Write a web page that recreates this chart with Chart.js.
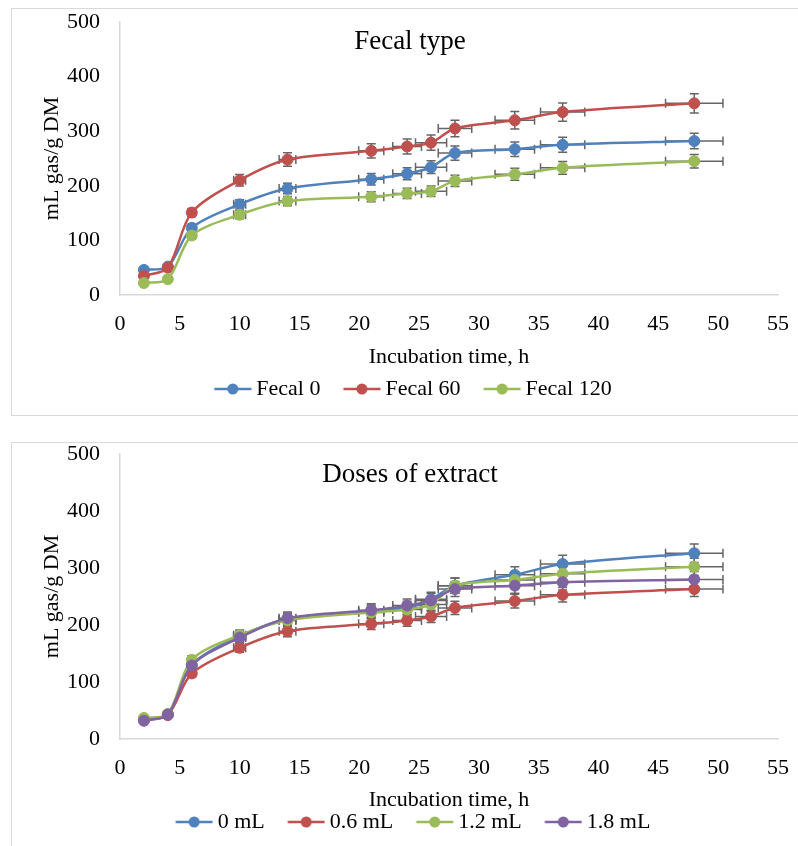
<!DOCTYPE html>
<html>
<head>
<meta charset="utf-8">
<script src="https://cdn.jsdelivr.net/npm/chart.js@4.4.1/dist/chart.umd.min.js"></script>
<style>
  html, body { margin: 0; padding: 0; background: #fff; overflow: hidden; }
  body { width: 798px; height: 846px; position: relative; }
  .frame { position: absolute; left: 11px; border: 1px solid #d9d9d9; background: #fff; }
  #box1 { top: 8px; width: 802px; height: 406px; }
  #box2 { top: 442px; width: 802px; height: 410px; }
  canvas { display: block; }
</style>
</head>
<body>
<div class="frame" id="box1"><canvas id="chart1" width="802" height="406"></canvas></div>
<div class="frame" id="box2"><canvas id="chart2" width="802" height="410"></canvas></div>
<script>
// ---- data ----
var hours = [2, 4, 6, 10, 14, 21, 24, 26, 28, 33, 37, 48];

var fecal0   = [46, 52, 123, 166, 195, 212, 222, 234, 260, 267, 275, 282];
var fecal60  = [35, 50, 151, 210, 248, 264, 272, 279, 305, 320, 335, 351];
var fecal120 = [22, 29, 109, 147, 172, 180, 186, 190, 209, 221, 233, 245];

var dose0  = [34, 43, 130, 180, 210, 224, 230, 245, 269, 288, 307, 326];
var dose06 = [33, 42, 115, 160, 189, 202, 208, 215, 230, 242, 253, 263];
var dose12 = [37, 44, 139, 182, 208, 222, 227, 236, 269, 279, 290, 302];
var dose18 = [32, 43, 129, 178, 212, 226, 234, 243, 263, 269, 275, 280];

var errPct = 0.05; // error bars: 5 % on both axes

var xTicks = { min: 0, max: 55, step: 5 };
var yTicks = { min: 0, max: 500, step: 100 };

var blue = '#4f81bd', red = '#c0504d', green = '#9bbb59', purple = '#8064a2';
var serif = '"Liberation Serif", "Times New Roman", serif';

Chart.defaults.font.family = serif;
Chart.defaults.color = '#000';

// legend icon: line with a circle marker
function legendIcon(color) {
    var c = document.createElement('canvas');
    c.width = 44; c.height = 14;
    var g = c.getContext('2d');
    g.strokeStyle = color; g.lineWidth = 2.5;
    g.beginPath(); g.moveTo(6.5, 7); g.lineTo(43.5, 7); g.stroke();
    g.fillStyle = color;
    g.beginPath(); g.arc(25, 7, 5.5, 0, Math.PI * 2); g.fill();
    return c;
}

// error bars drawn behind the lines
var errorBars = {
    id: 'errorBars',
    beforeDatasetsDraw: function (chart) {
        var ctx = chart.ctx, xs = chart.scales.x, ys = chart.scales.y, cap = 4.5;
        ctx.save();
        ctx.strokeStyle = '#666666';
        ctx.lineWidth = 1.5;
        chart.data.datasets.forEach(function (ds) {
            ds.data.forEach(function (p) {
                var px = xs.getPixelForValue(p.x), py = ys.getPixelForValue(p.y);
                var x0 = xs.getPixelForValue(p.x * (1 - errPct)), x1 = xs.getPixelForValue(p.x * (1 + errPct));
                var y0 = ys.getPixelForValue(p.y * (1 - errPct)), y1 = ys.getPixelForValue(p.y * (1 + errPct));
                ctx.beginPath();
                ctx.moveTo(x0, py); ctx.lineTo(x1, py);
                ctx.moveTo(x0, py - cap); ctx.lineTo(x0, py + cap);
                ctx.moveTo(x1, py - cap); ctx.lineTo(x1, py + cap);
                ctx.moveTo(px, y0); ctx.lineTo(px, y1);
                ctx.moveTo(px - cap, y0); ctx.lineTo(px + cap, y0);
                ctx.moveTo(px - cap, y1); ctx.lineTo(px + cap, y1);
                ctx.stroke();
            });
        });
        ctx.restore();
    }
};

// title laid over the plot area (like Excel)
var overlayTitle = {
    id: 'overlayTitle',
    afterDraw: function (chart, args, opts) {
        var ctx = chart.ctx;
        ctx.save();
        ctx.font = '27px ' + serif;
        ctx.fillStyle = '#000';
        ctx.textAlign = 'center';
        ctx.textBaseline = 'alphabetic';
        ctx.fillText(opts.text, opts.x, opts.y);
        ctx.restore();
    }
};

function makeChart(id, title, names, series, colors, geo) {
    var n = series.length;
    var datasets = series.map(function (vals, i) {
        return {
            label: names[i],
            data: hours.map(function (h, k) { return { x: h, y: vals[k] }; }),
            borderColor: colors[i],
            backgroundColor: colors[i],
            borderWidth: 2.5,
            tension: 0.3,
            pointRadius: 5.5,
            pointBorderWidth: 1,
            pointBackgroundColor: colors[i],
            pointBorderColor: colors[i],
            order: n - i // later series on top, as in Excel
        };
    });

    return new Chart(document.getElementById(id), {
        type: 'line',
        data: { datasets: datasets },
        plugins: [errorBars, overlayTitle],
        options: {
            responsive: false,
            animation: false,
            layout: { padding: { left: 0, right: 0, top: geo.top, bottom: geo.padBottom } },
            plugins: {
                tooltip: { enabled: false },
                title: { display: false },
                overlayTitle: { text: title, x: 398, y: geo.titleY },
                legend: {
                    position: 'bottom',
                    labels: {
                        usePointStyle: true,
                        pointStyleWidth: 31,
                        padding: 23,
                        color: '#000',
                        font: { size: 22, family: serif },
                        generateLabels: function (chart) {
                            return chart.data.datasets.map(function (ds, i) {
                                return {
                                    text: ds.label,
                                    pointStyle: legendIcon(ds.borderColor),
                                    fillStyle: ds.borderColor,
                                    strokeStyle: ds.borderColor,
                                    lineWidth: 0,
                                    hidden: false,
                                    fontColor: '#000',
                                    datasetIndex: i
                                };
                            });
                        }
                    }
                }
            },
            scales: {
                x: {
                    type: 'linear',
                    min: xTicks.min, max: xTicks.max,
                    grid: { display: false, drawTicks: false },
                    border: { display: true, color: '#d9d9d9', width: 1.5 },
                    ticks: { stepSize: xTicks.step, padding: geo.xTickPad, color: '#000',
                             font: { size: 22, lineHeight: 1 } },
                    title: { display: true, text: 'Incubation time, h', color: '#000',
                             font: { size: 22, lineHeight: 1 }, padding: { top: 0, bottom: geo.xTitlePad } },
                    afterFit: function (s) { s.height = geo.xHeight; }
                },
                y: {
                    min: yTicks.min, max: yTicks.max,
                    // invisible tick marks give the gap between labels and axis
                    grid: { display: true, drawOnChartArea: false, drawTicks: true,
                            tickLength: 20, tickColor: 'rgba(0,0,0,0)' },
                    border: { display: true, color: '#d9d9d9', width: 1.5 },
                    ticks: { stepSize: yTicks.step, padding: 0, color: '#000',
                             font: { size: 22, lineHeight: 1 } },
                    title: { display: true, text: 'mL gas/g DM', color: '#000',
                             font: { size: 22, lineHeight: 1 }, padding: { top: 29, bottom: 0 } },
                    afterFit: function (s) { s.width = 108; }
                },
                yr: {
                    position: 'right',
                    display: true,
                    grid: { display: false, drawTicks: false },
                    border: { display: false },
                    ticks: { display: false },
                    afterFit: function (s) { s.width = 36; }
                }
            }
        }
    });
}

makeChart('chart1', 'Fecal type',
    ['Fecal 0', 'Fecal 60', 'Fecal 120'],
    [fecal0, fecal60, fecal120],
    [blue, red, green],
    { top: 13, padBottom: 5, xHeight: 60, xTickPad: 18, xTitlePad: -13, titleY: 39.5 });

makeChart('chart2', 'Doses of extract',
    ['0 mL', '0.6 mL', '1.2 mL', '1.8 mL'],
    [dose0, dose06, dose12, dose18],
    [blue, red, green, purple],
    { top: 11, padBottom: 10, xHeight: 49, xTickPad: 18.7, xTitlePad: -23.3, titleY: 38.5 });
</script>
</body>
</html>
